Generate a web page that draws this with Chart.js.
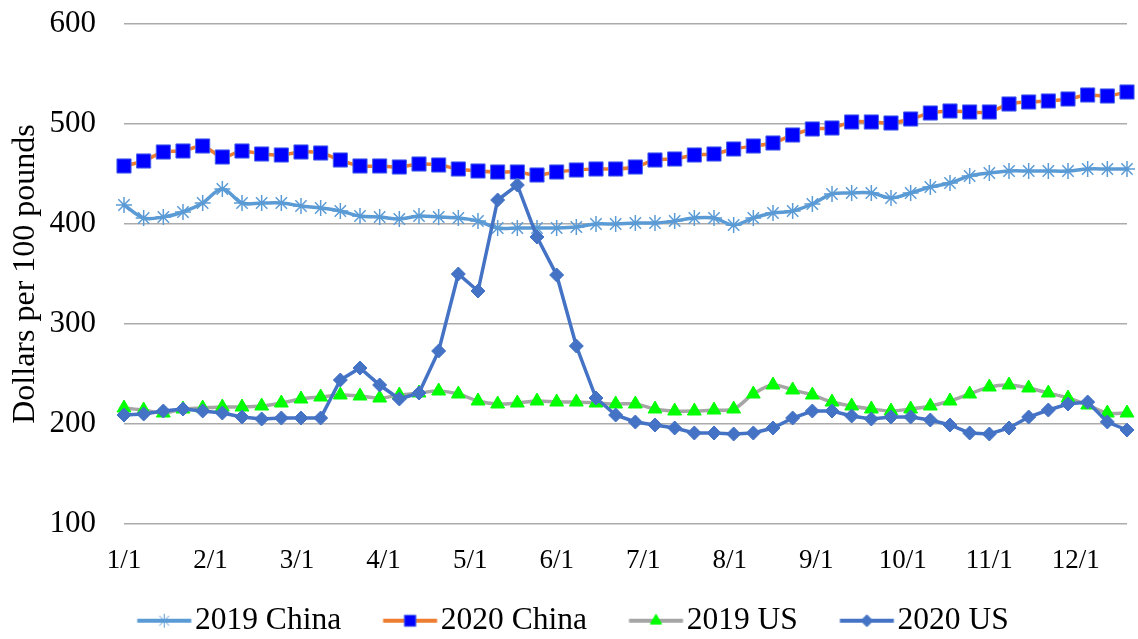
<!DOCTYPE html>
<html>
<head>
<meta charset="utf-8">
<script src="https://cdn.jsdelivr.net/npm/chart.js@4.4.1/dist/chart.umd.min.js"></script>
<style>
  body { margin: 0; background: #fff; }
  #wrap { width: 1138px; height: 639px; }
</style>
</head>
<body>
<div id="wrap"><canvas id="grafico" width="1138" height="639"></canvas></div>
<script>
// weekly prices, dollars per 100 pounds (one value per week, 52 weeks)
const meses = ['1/1', '2/1', '3/1', '4/1', '5/1', '6/1', '7/1', '8/1', '9/1', '10/1', '11/1', '12/1'];
const semanasPorMes = 4.4;

const china2019 = [419, 406, 407, 412, 421, 435, 421, 421, 421, 418, 416, 413, 408, 407, 405, 408,
                   407, 406, 403, 396, 396, 396, 396, 397, 400, 400, 401, 401, 403, 406, 406, 399,
                   406, 411, 413, 420, 430, 431, 431, 426, 431, 437, 441, 448, 451, 453, 453, 453,
                   453, 455, 455, 455];
const china2020 = [458, 463, 472, 473, 478, 467, 473, 470, 469, 472, 471, 464, 458, 458, 457, 460,
                   459, 455, 453, 452, 452, 449, 452, 454, 455, 455, 457, 464, 465, 469, 470, 475,
                   478, 481, 489, 495, 496, 502, 502, 501, 505, 511, 513, 512, 512, 520, 522, 523,
                   525, 529, 528, 532];
const us2019 = [216, 214, 211, 215, 216, 217, 217, 218, 221, 225, 227, 229, 228, 226, 229, 231,
                233, 230, 223, 220, 221, 223, 222, 222, 221, 220, 220, 215, 213, 213, 214, 215,
                230, 239, 234, 229, 222, 218, 215, 213, 215, 218, 223, 230, 237, 239, 236, 231,
                226, 219, 211, 211];
const us2020 = [209, 210, 213, 215, 213, 211, 207, 205, 206, 206, 206, 244, 256, 239, 225, 231,
                273, 350, 333, 424, 439, 387, 349, 278, 226, 209, 202, 199, 196, 191, 191, 190,
                191, 196, 206, 213, 213, 208, 205, 207, 207, 204, 199, 191, 190, 196, 207, 214,
                220, 222, 202, 194];

const fuente = 'Liberation Serif, Times New Roman, serif';

function puntos(valores) {
    return valores.map((v, i) => ({ x: i, y: v }));
}

// little line + marker sample for each legend entry
function muestra(colorLinea, estilo, radio, relleno, borde) {
    const c = document.createElement('canvas');
    c.width = 120;
    c.height = 36;
    const ctx = c.getContext('2d');
    ctx.strokeStyle = colorLinea;
    ctx.lineWidth = 4;
    ctx.beginPath();
    ctx.moveTo(44.5, 18);
    ctx.lineTo(98.5, 18);
    ctx.stroke();
    ctx.fillStyle = relleno;
    ctx.strokeStyle = borde;
    ctx.lineWidth = 1;
    Chart.helpers.drawPoint(ctx, { pointStyle: estilo, radius: radio, rotation: 0, borderWidth: 1 }, 71.5, 18);
    return c;
}

const series = [
    {
        label: '2019 China',
        data: puntos(china2019),
        borderColor: '#5B9BD5',
        borderWidth: 3.5,
        tension: 0.35,
        pointStyle: 'star',
        pointRadius: 8,
        pointBorderWidth: 1.5,
        pointBorderColor: '#5B9BD5',
        pointBackgroundColor: '#5B9BD5',
        order: 3,
        muestra: muestra('#5B9BD5', 'star', 7, '#5B9BD5', '#5B9BD5')
    },
    {
        label: '2020 China',
        data: puntos(china2020),
        borderColor: '#ED7D31',
        borderWidth: 3.5,
        tension: 0.3,
        pointStyle: 'rect',
        pointRadius: 10,
        pointBorderWidth: 1,
        pointBorderColor: '#4A63E8',
        pointBackgroundColor: '#0000FF',
        order: 2,
        muestra: muestra('#ED7D31', 'rect', 8, '#0000FF', '#4A63E8')
    },
    {
        label: '2019 US',
        data: puntos(us2019),
        borderColor: '#A5A5A5',
        borderWidth: 3.5,
        tension: 0.35,
        pointStyle: 'triangle',
        pointRadius: 8,
        pointBorderWidth: 1,
        pointBorderColor: '#00FF00',
        pointBackgroundColor: '#00FF00',
        order: 1,
        muestra: muestra('#A5A5A5', 'triangle', 6.5, '#00FF00', '#00FF00')
    },
    {
        label: '2020 US',
        data: puntos(us2020),
        borderColor: '#4472C4',
        borderWidth: 3.5,
        tension: 0,
        pointStyle: 'rectRot',
        pointRadius: 7,
        pointBorderWidth: 1,
        pointBorderColor: '#4472C4',
        pointBackgroundColor: '#4472C4',
        order: 0,
        muestra: muestra('#4472C4', 'rectRot', 6, '#4472C4', '#4472C4')
    }
];
series.forEach(s => { s.clip = false; });

new Chart(document.getElementById('grafico'), {
    type: 'line',
    data: { datasets: series },
    options: {
        responsive: false,
        animation: false,
        layout: { padding: { left: 0, right: 3, top: 24, bottom: -7.5 } },
        plugins: {
            tooltip: { enabled: false },
            legend: {
                position: 'bottom',
                labels: {
                    usePointStyle: true,
                    pointStyleWidth: 53,
                    padding: 31,
                    color: '#000',
                    font: { family: fuente, size: 31.5 },
                    generateLabels: chart => chart.data.datasets.map((ds, i) => ({
                        text: ds.label,
                        pointStyle: ds.muestra,
                        datasetIndex: i,
                        hidden: false,
                        lineWidth: 0,
                        fontColor: '#000'
                    }))
                }
            }
        },
        scales: {
            x: {
                type: 'linear',
                min: 0,
                max: china2019.length - 1,
                grid: { display: false, drawTicks: false },
                border: { display: false },
                afterBuildTicks: scale => {
                    scale.ticks = meses.map((m, i) => ({ value: i * semanasPorMes }));
                },
                afterFit: scale => { scale.height = 50; },
                ticks: {
                    autoSkip: false,
                    maxRotation: 0,
                    padding: 21,
                    color: '#000',
                    font: { family: fuente, size: 27 },
                    callback: (v, i) => meses[i]
                }
            },
            y: {
                min: 100,
                max: 600,
                // tick marks only make room between labels and plot; they stay invisible
                grid: { color: '#ABABAB', lineWidth: 1.5, drawTicks: true, tickLength: 28, tickColor: 'rgba(0,0,0,0)' },
                border: { display: false },
                afterFit: scale => { scale.width = 124; },
                ticks: {
                    stepSize: 100,
                    padding: 0,
                    color: '#000',
                    font: { family: fuente, size: 31 }
                },
                title: {
                    display: true,
                    text: 'Dollars per 100 pounds',
                    color: '#000',
                    padding: { top: 6, bottom: 0 },
                    font: { family: fuente, size: 32 }
                }
            }
        }
    }
});
</script>
</body>
</html>
